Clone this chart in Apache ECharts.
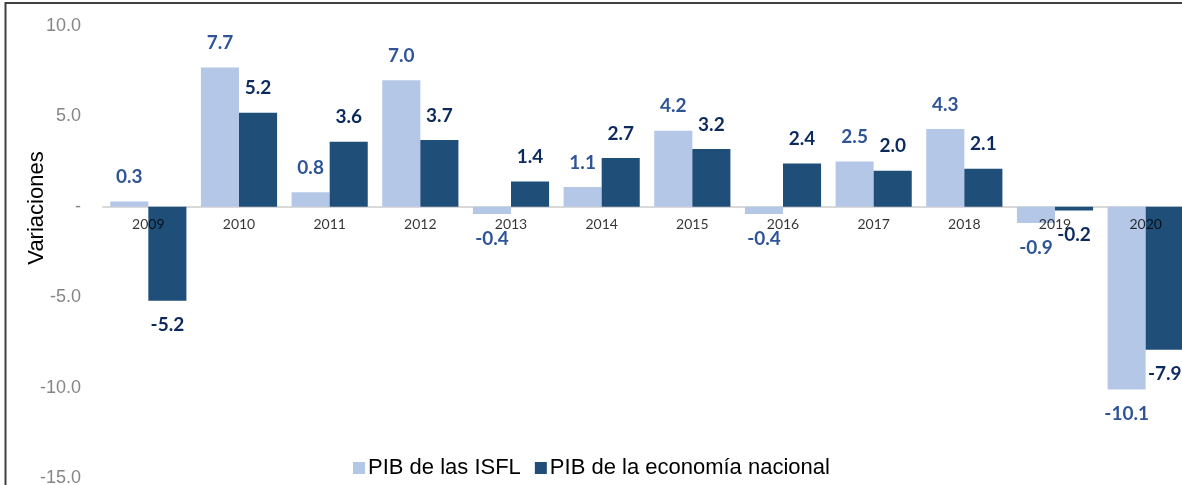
<!DOCTYPE html>
<html>
<head>
<meta charset="utf-8">
<script src="https://cdn.jsdelivr.net/npm/echarts@6/dist/echarts.min.js"></script>
<style>
html,body{margin:0;padding:0;background:#fff;}
#chart{width:1182px;height:485px;}
</style>
</head>
<body>
<div id="chart"></div>
<script>
const categories = ['2009','2010','2011','2012','2013','2014','2015','2016','2017','2018','2019','2020'];
const isflValues = [0.3, 7.7, 0.8, 7.0, -0.4, 1.1, 4.2, -0.4, 2.5, 4.3, -0.9, -10.1];
const nacionalValues = [-5.2, 5.2, 3.6, 3.7, 1.4, 2.7, 3.2, 2.4, 2.0, 2.1, -0.2, -7.9];
const seriesNames = ['PIB de las ISFL', 'PIB de la economía nacional'];
const yTicks = { min: -15, max: 10, interval: 5 };

function toItems(arr) {
  return arr.map(v => ({ value: v, label: { position: v < 0 ? 'bottom' : 'top' } }));
}

const chart = echarts.init(document.getElementById('chart'));
chart.setOption({
  animation: false,
  backgroundColor: '#ffffff',
  graphic: [
    { type: 'rect', z: 100, shape: { x: 5.5, y: 3, width: 1400, height: 700 },
      style: { fill: 'none', stroke: '#404040', lineWidth: 2 } },
    { type: 'text', x: 37, y: 208, rotation: Math.PI / 2,
      style: { text: 'Variaciones', font: '22px "Liberation Sans", Arial, sans-serif', fill: '#000',
               textAlign: 'center', textVerticalAlign: 'middle' } }
  ],
  grid: { left: 103, top: 26, width: 1088, bottom: 7, containLabel: false, outerBoundsMode: 'none' },
  legend: {
    left: 348, top: 452,
    itemWidth: 12, itemHeight: 12, itemGap: 14,
    icon: 'rect',
    textStyle: { fontFamily: '"Liberation Sans", Arial, sans-serif', fontSize: 22, color: '#000', padding: [0,0,0,-2] },
    data: seriesNames
  },
  xAxis: {
    type: 'category',
    data: categories,
    axisLine: { onZero: true, lineStyle: { color: '#d9d9d9', width: 2 } },
    axisTick: { show: false },
    axisLabel: { show: false },
    splitLine: { show: false }
  },
  yAxis: {
    type: 'value',
    min: yTicks.min, max: yTicks.max, interval: yTicks.interval,
    axisLine: { show: false },
    axisTick: { show: false },
    splitLine: { show: false },
    axisLabel: {
      color: '#868686', fontSize: 18, fontFamily: '"Liberation Sans", Arial, sans-serif', margin: 22,
      formatter: v => v === 0 ? '-' : v.toFixed(1)
    }
  },
  series: [
    {
      name: seriesNames[0], type: 'bar', data: toItems(isflValues),
      barGap: '0%', barCategoryGap: '16%',
      itemStyle: { color: '#B4C7E7' },
      label: { show: true, distance: 15, color: '#2F5597', fontWeight: 'bold', fontSize: 19,
               fontFamily: 'Lato, "Open Sans", sans-serif', formatter: p => p.value.toFixed(1) }
    },
    {
      name: seriesNames[1], type: 'bar', data: toItems(nacionalValues),
      barGap: '0%', barCategoryGap: '16%',
      itemStyle: { color: '#1F4E79' },
      label: { show: true, distance: 15, color: '#0C2A5E', fontWeight: 'bold', fontSize: 19,
               fontFamily: 'Lato, "Open Sans", sans-serif', formatter: p => p.value.toFixed(1) }
    },
    {
      name: 'axis-labels', type: 'scatter', symbolSize: 0, silent: true, z: 5,
      data: categories.map(c => [c, 0]),
      label: { show: true, position: 'bottom', distance: 11, color: '#000', fontSize: 14,
               fontFamily: 'Lato, "Liberation Sans", sans-serif', formatter: p => p.value[0] }
    }
  ]
});
</script>
</body>
</html>
